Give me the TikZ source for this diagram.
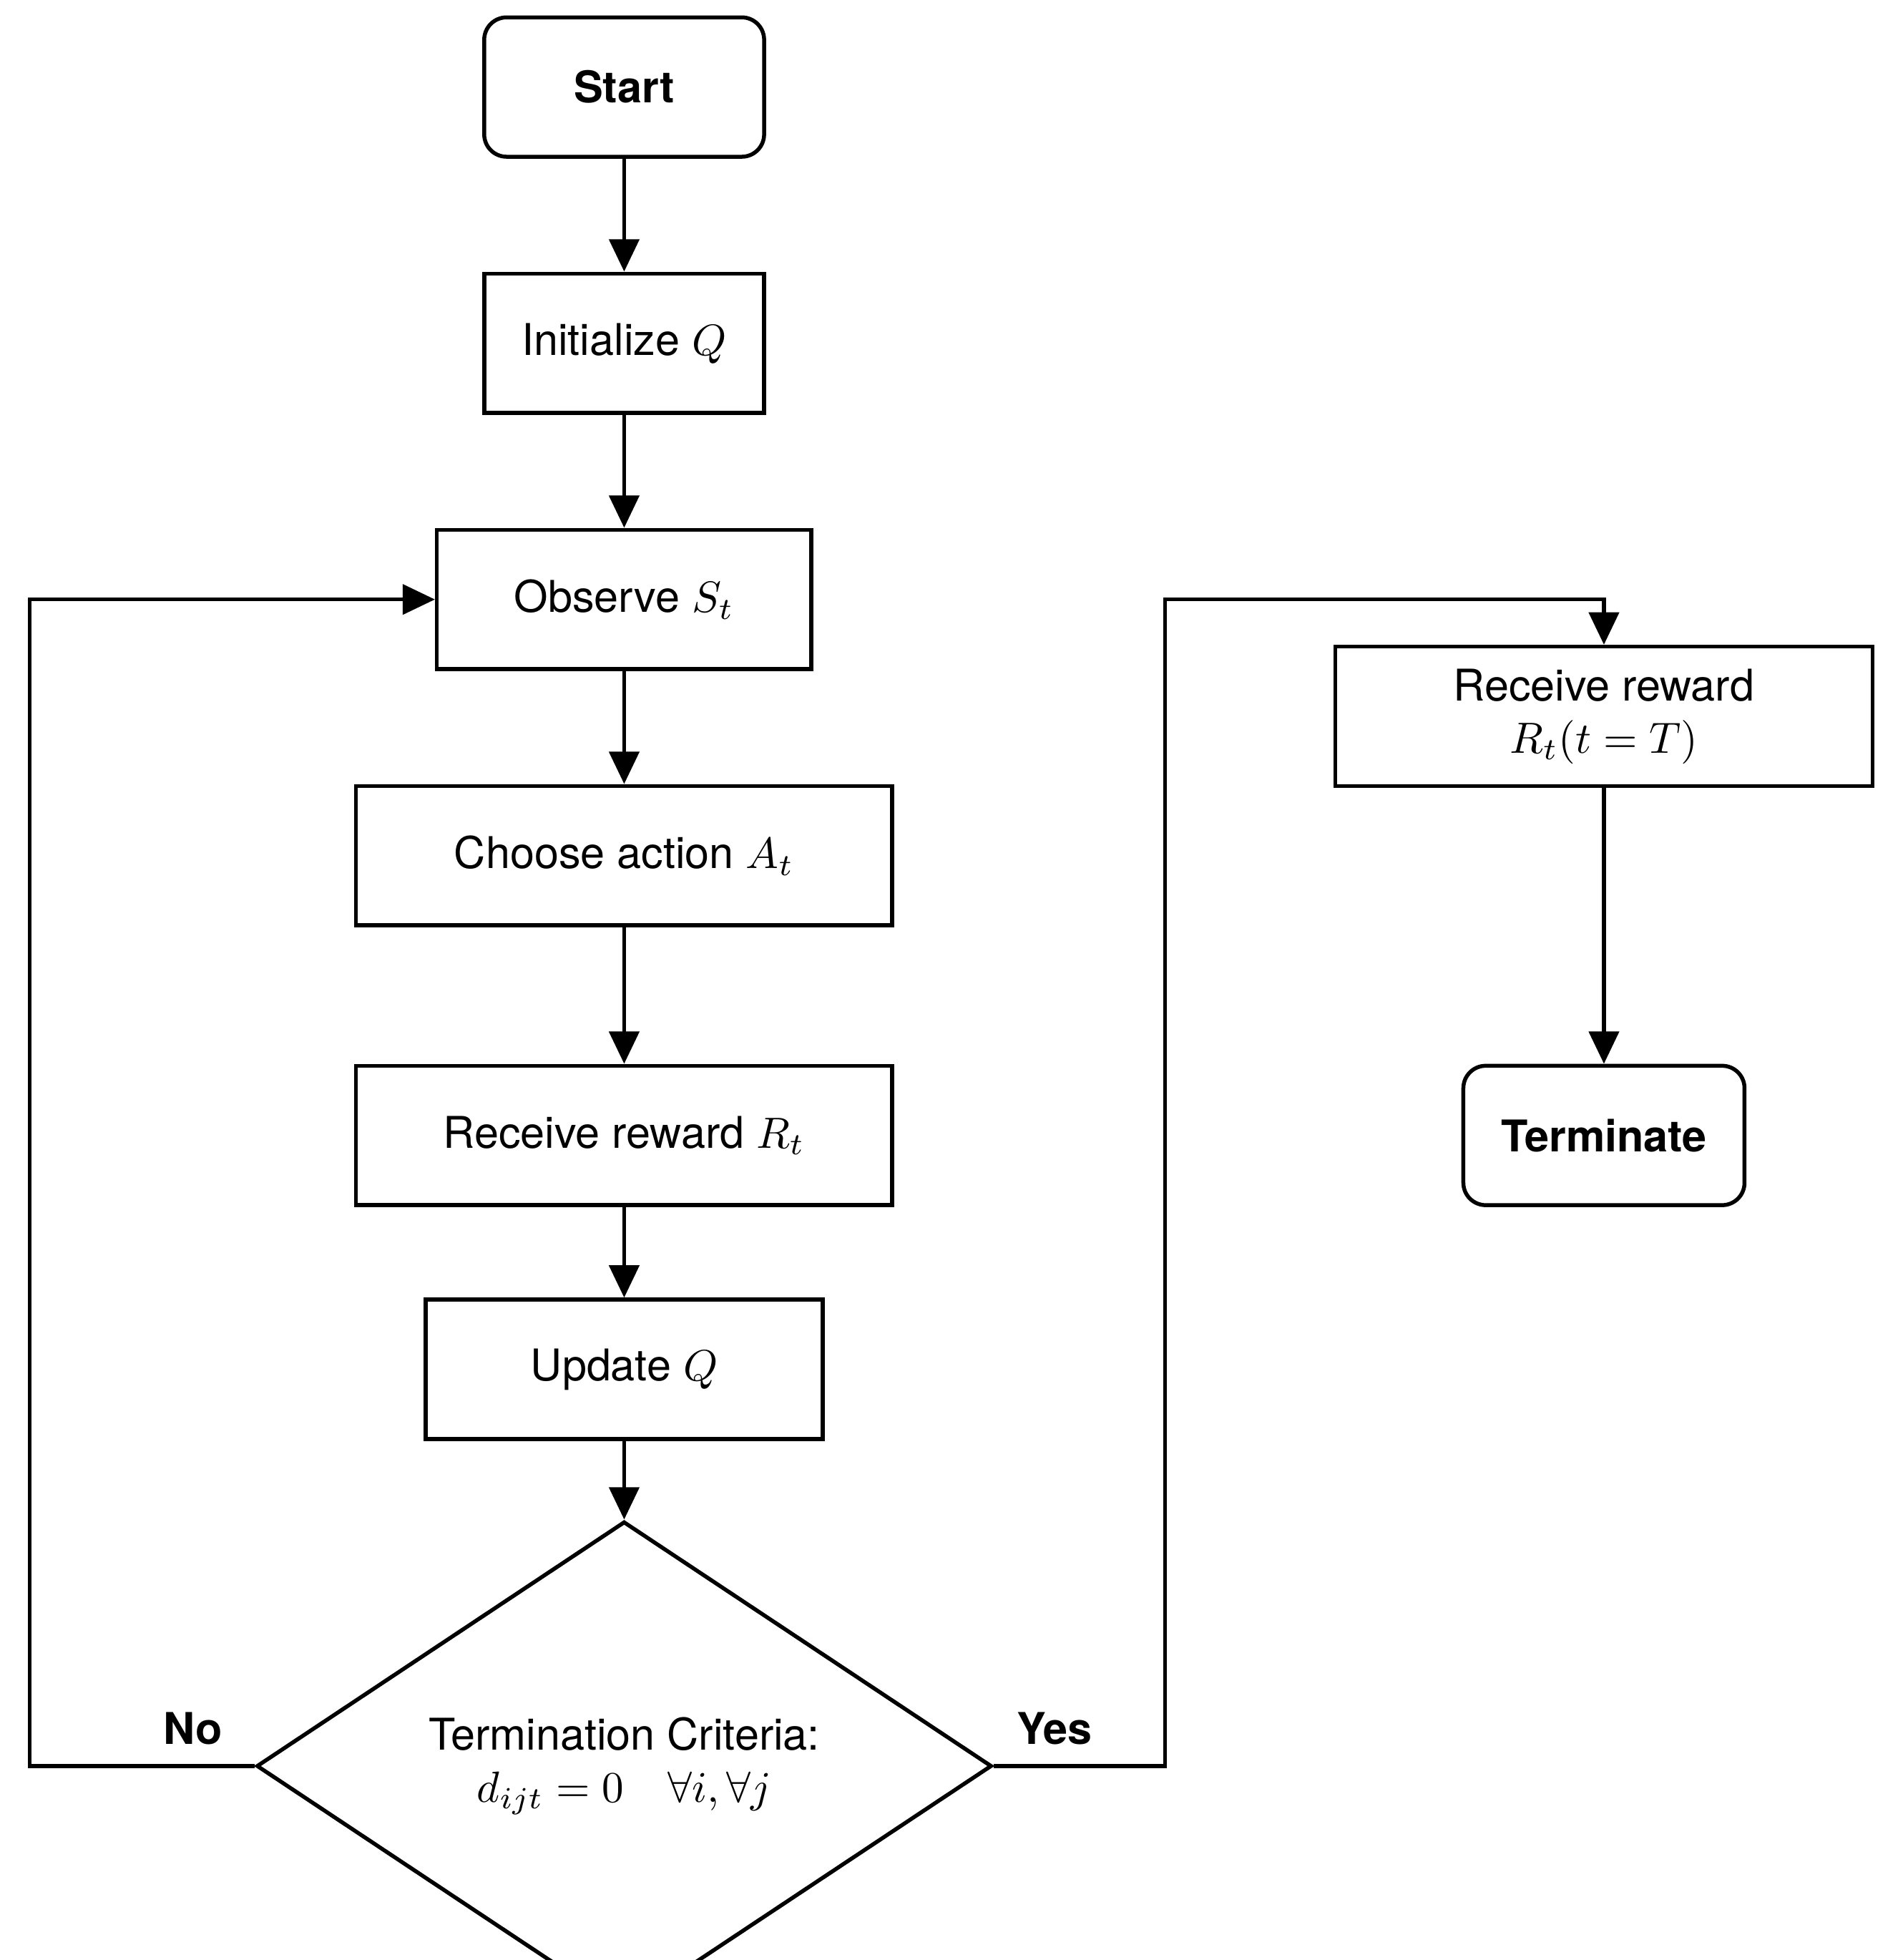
\documentclass[tikz,border=0pt]{standalone}
\usepackage{fontspec}
\setmainfont{TeX Gyre Heros}
\usepackage{amsmath}
\usetikzlibrary{arrows.meta}
\usetikzlibrary{shapes.geometric}
\usetikzlibrary{positioning}

\tikzset{
    box/.style={draw, line width=0.9pt, minimum height=1.12cm, inner sep=0pt, font=\fontsize{10}{12}\selectfont},
    term/.style={box, rounded corners=0.18cm, font=\fontsize{10}{12}\selectfont\bfseries},
    flow/.style={line width=0.9pt, -{Triangle[length=2.6mm,width=2.4mm]}},
}

\begin{document}
\begin{tikzpicture}[x=0.01cm, y=-0.01cm]
    \useasboundingbox (0,0) rectangle (1530,1576);

    % main column
    \node[term, minimum width=2.25cm] (start) at (502,70) {Start};
    \node[box, minimum width=2.25cm] (init) at (502,276) {Initialize $Q$};
    \node[box, minimum width=3.01cm] (obs) at (502,482) {Observe $S_t$};
    \node[box, minimum width=4.31cm] (act) at (502,688) {Choose action $A_t$};
    \node[box, minimum width=4.31cm] (rew) at (502,913) {Receive reward $R_t$};
    \node[box, minimum width=3.19cm] (upd) at (502,1101) {Update $Q$};
    \node[draw, diamond, line width=0.9pt, minimum width=5.91cm, minimum height=2.6cm, inner sep=0pt, align=center, font=\fontsize{10}{12}\selectfont] (crit) at (502,1420)
        {Termination Criteria:\\ $d_{ijt}=0 \quad \forall i,\forall j$};

    % right column
    \node[box, minimum width=4.32cm, align=center] (rewT) at (1290,576) {Receive reward\\ $R_t(t=T)$};
    \node[term, minimum width=2.26cm] (stop) at (1290,913) {Terminate};

    \coordinate (no) at (24,1420);
    \coordinate (yes) at (937,482);

    \draw[flow] (start) -- (init);
    \draw[flow] (init) -- (obs);
    \draw[flow] (obs) -- (act);
    \draw[flow] (act) -- (rew);
    \draw[flow] (rew) -- (upd);
    \draw[flow] (upd) -- (crit);
    \draw[flow] (crit.west) -- (no) |- (obs.west);
    \draw[flow] (crit.east) -| (yes) -| (rewT.north);
    \draw[flow] (rewT) -- (stop);

    \node[font=\fontsize{10}{12}\selectfont\bfseries] at (155,1390) {No};
    \node[font=\fontsize{10}{12}\selectfont\bfseries] at (848,1390) {Yes};
\end{tikzpicture}
\end{document}
